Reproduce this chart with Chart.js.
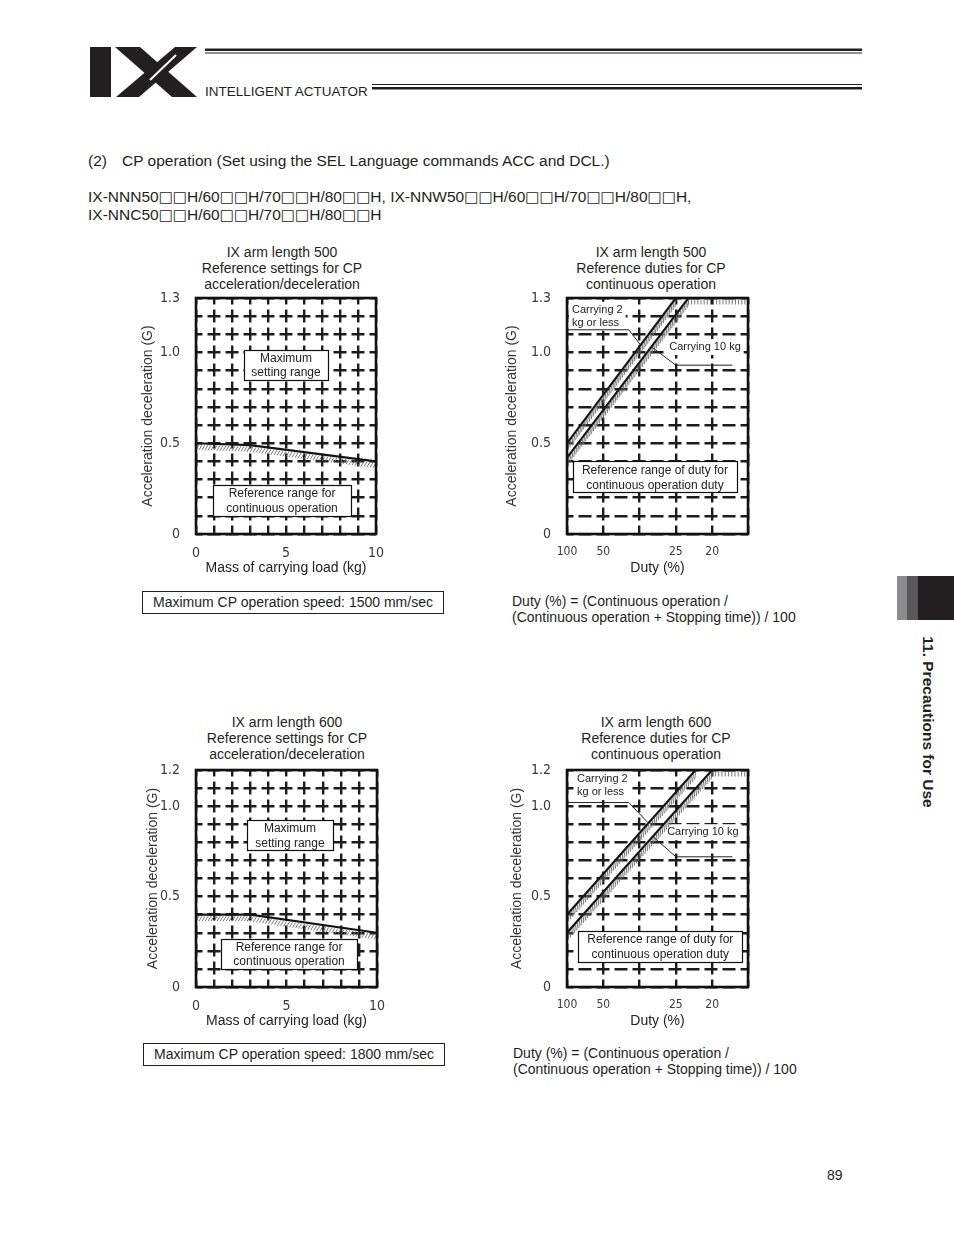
<!DOCTYPE html>
<html><head><meta charset="utf-8">
<script src="https://cdn.jsdelivr.net/npm/chart.js@4.4.1/dist/chart.umd.min.js"></script>
<style>
html,body{margin:0;padding:0;background:#fff;}
body{width:954px;height:1235px;position:relative;overflow:hidden;font-family:"Liberation Sans",Arial,sans-serif;color:#231f20;}
.t{position:absolute;white-space:pre;}
.ct{position:absolute;width:260px;text-align:center;font-size:14px;line-height:16px;white-space:pre;}
.c{position:absolute;}
.sq{font-family:"DejaVu Sans",sans-serif;font-size:15px;}
.box{position:absolute;border:1px solid #231f20;box-sizing:border-box;text-align:center;font-size:14px;line-height:20px;white-space:pre;}
</style></head><body>

<svg class="c" style="left:0;top:0" width="954" height="110">
  <rect x="90" y="47" width="21" height="50" fill="#231f20"/>
  <polygon points="115,47 140,47 197,97 172,97" fill="#231f20"/>
  <polygon points="175,47 197,47 139,97 116,97" fill="#231f20"/>
  <line x1="150" y1="80" x2="176" y2="55" stroke="#fff" stroke-width="2"/>
  <rect x="205" y="48.5" width="657" height="2.5" fill="#231f20"/>
  <rect x="205" y="52.5" width="657" height="1" fill="#231f20"/>
  <rect x="372" y="84" width="490" height="1" fill="#231f20"/>
  <rect x="372" y="87" width="490" height="2.5" fill="#231f20"/>
</svg>
<div class="t" style="left:205px;top:85px;font-size:13.5px;line-height:14px;">INTELLIGENT ACTUATOR</div>

<div class="t" style="left:88px;top:152px;font-size:15.5px;line-height:17px;">(2)</div>
<div class="t" style="left:122px;top:152px;font-size:15.5px;line-height:17px;">CP operation (Set using the SEL Language commands ACC and DCL.)</div>
<div class="t" style="left:88px;top:188px;font-size:15.5px;line-height:18px;">IX-NNN50<span class="sq">□□</span>H/60<span class="sq">□□</span>H/70<span class="sq">□□</span>H/80<span class="sq">□□</span>H, IX-NNW50<span class="sq">□□</span>H/60<span class="sq">□□</span>H/70<span class="sq">□□</span>H/80<span class="sq">□□</span>H,
IX-NNC50<span class="sq">□□</span>H/60<span class="sq">□□</span>H/70<span class="sq">□□</span>H/80<span class="sq">□□</span>H</div>

<div class="ct" style="left:152px;top:244px;">IX arm length 500
Reference settings for CP
acceleration/deceleration</div>
<div class="ct" style="left:521px;top:244px;">IX arm length 500
Reference duties for CP
continuous operation</div>
<div class="ct" style="left:157px;top:714px;">IX arm length 600
Reference settings for CP
acceleration/deceleration</div>
<div class="ct" style="left:526px;top:714px;">IX arm length 600
Reference duties for CP
continuous operation</div>

<canvas id="c1" class="c" style="left:130px;top:290px" width="260" height="300"></canvas>
<canvas id="c2" class="c" style="left:500px;top:290px" width="260" height="300"></canvas>
<canvas id="c3" class="c" style="left:130px;top:760px" width="260" height="280"></canvas>
<canvas id="c4" class="c" style="left:500px;top:760px" width="260" height="280"></canvas>

<div class="box" style="left:142px;top:591px;width:302px;height:23px;">Maximum CP operation speed: 1500 mm/sec</div>
<div class="box" style="left:143px;top:1043px;width:302px;height:23px;">Maximum CP operation speed: 1800 mm/sec</div>
<div class="t" style="left:512px;top:593px;font-size:14px;line-height:16px;">Duty (%) = (Continuous operation /
(Continuous operation + Stopping time)) / 100</div>
<div class="t" style="left:513px;top:1045px;font-size:14px;line-height:16px;">Duty (%) = (Continuous operation /
(Continuous operation + Stopping time)) / 100</div>

<div class="c" style="left:897px;top:576px;width:10px;height:44px;background:#8c8c8c"></div>
<div class="c" style="left:907px;top:576px;width:11px;height:44px;background:#58585a"></div>
<div class="c" style="left:918px;top:576px;width:36px;height:44px;background:#231f20"></div>
<div class="t" style="left:928px;top:722px;transform:translate(-50%,-50%) rotate(90deg);font-weight:bold;font-size:15.5px;line-height:17px;">11. Precautions for Use</div>

<div class="t" style="left:827px;top:1167px;font-size:14px;line-height:16px;">89</div>

<script>
// ---------- data ----------
const massTicks = [0, 5, 10];
const dutyTickLabels = [100, 50, 25, 20];
const dutyGridValues = [100, 50, 33.3, 25, 20, 16.7];
const yLabels500 = [0, 0.5, 1.0, 1.3];
const yLabels600 = [0, 0.5, 1.0, 1.2];

// arm 500: acceleration vs mass
const mass500 = [0, 3, 10];
const accel500 = [0.5, 0.49, 0.4];
// arm 600: acceleration vs mass
const mass600 = [0, 3, 10];
const accel600 = [0.4, 0.4, 0.3];

// arm 500: duty lines
const duty500Light = [100, 25];
const accel500Light = [0.5, 1.3];
const duty500Heavy = [100, 23];
const accel500Heavy = [0.42, 1.3];
const duty500Limit = [23, 16.7];
const accel500Limit = [1.3, 1.3];
// arm 600: duty lines
const duty600Light = [100, 22];
const accel600Light = [0.4, 1.2];
const duty600Heavy = [100, 20];
const accel600Heavy = [0.3, 1.2];
const duty600Limit = [20, 16.7];
const accel600Limit = [1.2, 1.2];

// ---------- reciprocal duty scale ----------
class ReciprocalScale extends Chart.Scale {
  determineDataLimits() { this.min = this.options.min; this.max = this.options.max; }
  buildTicks() { return dutyGridValues.map(v => ({ value: v })); }
  getLabelForValue(v) { return String(v); }
  configure() { super.configure(); this._lo = 100 / this.max; this._hi = 100 / this.min; }
  getPixelForValue(v) { return this.getPixelForDecimal((100 / v - this._lo) / (this._hi - this._lo)); }
  getValueForPixel(p) { return 100 / (this._lo + this.getDecimalForPixel(p) * (this._hi - this._lo)); }
}
ReciprocalScale.id = 'reciprocal';
ReciprocalScale.defaults = {};
Chart.register(ReciprocalScale);

const SANS = '"Liberation Sans", Arial, sans-serif';
const NARROW = '"Liberation Sans Narrow", "DejaVu Sans Condensed", sans-serif';
const pts = (xs, ys) => xs.map((x, i) => ({ x: x, y: ys[i] }));

function annoPlugin(cfg) {
  return {
    id: 'anno',
    beforeDatasetsDraw(chart) {
      const { ctx } = chart; const x = chart.scales.x, y = chart.scales.y;
      ctx.save();
      (cfg.labels || []).forEach(lb => {
        const lx = x.getPixelForValue(lb.x), ly = y.getPixelForValue(lb.y);
        ctx.font = '11px ' + SANS;
        const w = Math.max(...lb.lines.map(s => ctx.measureText(s).width));
        ctx.fillStyle = '#fff';
        ctx.fillRect(lx - 3, ly - 8, w + 6, 13 * lb.lines.length + 3);
        ctx.fillStyle = '#222'; ctx.textAlign = 'left'; ctx.textBaseline = 'middle';
        lb.lines.forEach((s, i) => ctx.fillText(s, lx, ly + i * 13));
      });
      (cfg.boxes || []).forEach(b => {
        const cx = x.getPixelForValue(b.x), cy = y.getPixelForValue(b.y);
        const l = Math.round(cx - b.w / 2) + 0.5, t = Math.round(cy - b.h / 2) + 0.5;
        ctx.fillStyle = '#fff'; ctx.fillRect(l, t, b.w, b.h);
        ctx.strokeStyle = '#111'; ctx.lineWidth = 1.2; ctx.strokeRect(l, t, b.w, b.h);
        ctx.fillStyle = '#222'; ctx.font = '12px ' + SANS;
        ctx.textAlign = 'center'; ctx.textBaseline = 'middle';
        b.lines.forEach((s, i) => ctx.fillText(s, cx, cy + 1 + (i - (b.lines.length - 1) / 2) * 14.5));
      });
      ctx.restore();
    },
    afterDatasetsDraw(chart) {
      const { ctx, chartArea: a } = chart; const x = chart.scales.x, y = chart.scales.y;
      ctx.save();
      ctx.beginPath(); ctx.rect(a.left, a.top, a.right - a.left, a.bottom - a.top); ctx.clip();
      chart.data.datasets.forEach((ds, di) => {
        if (!ds.hatch) return;
        const h = ds.hatch;
        const p = chart.getDatasetMeta(di).data;
        ctx.strokeStyle = '#6a6a6a'; ctx.lineWidth = 0.9;
        ctx.beginPath();
        for (let k = 0; k < p.length - 1; k++) {
          const x0 = p[k].x, y0 = p[k].y, x1 = p[k + 1].x, y1 = p[k + 1].y;
          const n = Math.max(1, Math.floor(Math.hypot(x1 - x0, y1 - y0) / h.spacing));
          for (let j = 0; j <= n; j++) {
            const px = x0 + (x1 - x0) * j / n, py = y0 + (y1 - y0) * j / n;
            ctx.moveTo(px, py + 1.5); ctx.lineTo(px + h.dx, py + 1.5 + h.dy);
          }
        }
        ctx.stroke();
      });
      ctx.restore();
      ctx.save();
      ctx.strokeStyle = '#222'; ctx.lineWidth = 1;
      (cfg.leaders || []).forEach(L => {
        ctx.beginPath();
        L.forEach((q, i) => {
          const px = x.getPixelForValue(q[0]), py = y.getPixelForValue(q[1]);
          i ? ctx.lineTo(px, py) : ctx.moveTo(px, py);
        });
        ctx.stroke();
      });
      ctx.strokeStyle = '#111'; ctx.lineWidth = 2.6;
      ctx.strokeRect(a.left, a.top, a.right - a.left, a.bottom - a.top);
      ctx.restore();
    }
  };
}

function gridOpts() {
  return {
    grid: { color: '#1c1c1c', lineWidth: 2.4, drawTicks: false },
    border: { display: false, dash: [13, 5], dashOffset: 6.5 }
  };
}
function noPad(s) { s.paddingTop = 0; s.paddingBottom = 0; s.paddingLeft = 0; s.paddingRight = 0; }

function yAxis(max, labels, width, titlePad) {
  return Object.assign(gridOpts(), {
    type: 'linear', position: 'left', min: 0, max: max,
    afterFit: s => { s.width = width; noPad(s); },
    ticks: {
      stepSize: 0.1, autoSkip: false, padding: 16, color: '#3a3a3a',
      font: { family: NARROW, size: 14 },
      callback: v => labels.some(l => Math.abs(l - v) < 1e-6) ? (v === 0 ? '0' : Number(v).toFixed(1)) : ''
    },
    title: { display: true, text: 'Acceleration deceleration (G)', color: '#333',
             font: { family: SANS, size: 14 }, padding: { top: titlePad, bottom: 0 } }
  });
}

function massAxis(height, tickPad, titlePad) {
  return Object.assign(gridOpts(), {
    type: 'linear', position: 'bottom', min: 0, max: 10,
    afterFit: s => { s.height = height; noPad(s); },
    ticks: { stepSize: 1, autoSkip: false, maxRotation: 0, padding: tickPad, color: '#3a3a3a',
             font: { family: NARROW, size: 14 },
             callback: v => massTicks.includes(v) ? String(v) : '' },
    title: { display: true, text: 'Mass of carrying load (kg)', color: '#222',
             font: { family: SANS, size: 14 }, padding: { top: 0, bottom: titlePad } }
  });
}

function dutyAxis(height, tickPad, titlePad) {
  return Object.assign(gridOpts(), {
    type: 'reciprocal', position: 'bottom', min: 16.7, max: 100,
    afterFit: s => { s.height = height; noPad(s); },
    ticks: { autoSkip: false, maxRotation: 0, padding: tickPad, color: '#3a3a3a',
             font: { family: NARROW, size: 12 },
             callback: v => dutyTickLabels.includes(v) ? String(v) : '' },
    title: { display: true, text: 'Duty (%)', color: '#222',
             font: { family: SANS, size: 14 }, padding: { top: 0, bottom: titlePad } }
  });
}

function lineDs(data, hatch) {
  return { data: data, borderColor: '#141414', borderWidth: 2.2, pointRadius: 0, tension: 0, fill: false, hatch: hatch };
}

const HATCH_FLAT = { spacing: 3, dx: -3, dy: 5 };
const HATCH_DIAG = { spacing: 3.2, dx: -1, dy: 8 };
const HATCH_TOP = { spacing: 3, dx: 0, dy: 5 };

function baseOpts(pad, scales) {
  return {
    responsive: false, animation: false, devicePixelRatio: 1, events: [],
    layout: { padding: pad },
    plugins: { legend: { display: false }, tooltip: { enabled: false } },
    scales: scales
  };
}

new Chart(document.getElementById('c1'), {
  type: 'line',
  data: { datasets: [lineDs(pts(mass500, accel500), HATCH_FLAT)] },
  options: baseOpts({ top: 8, right: 14, left: 0, bottom: 0 },
    { x: massAxis(56, 11, 13), y: yAxis(1.3, yLabels500, 66, 10) }),
  plugins: [annoPlugin({
    boxes: [
      { x: 5.0, y: 0.933, w: 84, h: 30, lines: ['Maximum', 'setting range'] },
      { x: 4.78, y: 0.186, w: 138, h: 31, lines: ['Reference range for', 'continuous operation'] }
    ]
  })]
});

new Chart(document.getElementById('c2'), {
  type: 'line',
  data: { datasets: [
    lineDs(pts(duty500Light, accel500Light), HATCH_DIAG),
    lineDs(pts(duty500Heavy, accel500Heavy), HATCH_DIAG),
    lineDs(pts(duty500Limit, accel500Limit), HATCH_TOP)
  ] },
  options: baseOpts({ top: 8, right: 12, left: 0, bottom: 0 },
    { x: dutyAxis(56, 11, 13), y: yAxis(1.3, yLabels500, 67, 4) }),
  plugins: [annoPlugin({
    labels: [
      { x: 88, y: 1.235, lines: ['Carrying 2', 'kg or less'] },
      { x: 26.2, y: 1.03, lines: ['Carrying 10 kg'] }
    ],
    leaders: [
      [[100, 1.125], [37, 1.125], [33, 1.04]],
      [[30, 1.03], [25, 0.93], [18, 0.93]]
    ],
    boxes: [
      { x: 29.2, y: 0.314, w: 164, h: 31, lines: ['Reference range of duty for', 'continuous operation duty'] }
    ]
  })]
});

new Chart(document.getElementById('c3'), {
  type: 'line',
  data: { datasets: [lineDs(pts(mass600, accel600), HATCH_FLAT)] },
  options: baseOpts({ top: 10, right: 13, left: 0, bottom: 0 },
    { x: massAxis(53, 11, 10), y: yAxis(1.2, yLabels600, 66, 15) }),
  plugins: [annoPlugin({
    boxes: [
      { x: 5.19, y: 0.839, w: 86, h: 30, lines: ['Maximum', 'setting range'] },
      { x: 5.14, y: 0.183, w: 136, h: 30, lines: ['Reference range for', 'continuous operation'] }
    ]
  })]
});

new Chart(document.getElementById('c4'), {
  type: 'line',
  data: { datasets: [
    lineDs(pts(duty600Light, accel600Light), HATCH_DIAG),
    lineDs(pts(duty600Heavy, accel600Heavy), HATCH_DIAG),
    lineDs(pts(duty600Limit, accel600Limit), HATCH_TOP)
  ] },
  options: baseOpts({ top: 10, right: 12, left: 0, bottom: 0 },
    { x: dutyAxis(53, 11, 10), y: yAxis(1.2, yLabels600, 67, 9) }),
  plugins: [annoPlugin({
    labels: [
      { x: 78.4, y: 1.15, lines: ['Carrying 2', 'kg or less'] },
      { x: 26.6, y: 0.856, lines: ['Carrying 10 kg'] }
    ],
    leaders: [
      [[100, 1.02], [37, 1.02], [31, 0.91]],
      [[29.6, 0.83], [25, 0.72], [18, 0.72]]
    ],
    boxes: [
      { x: 28, y: 0.225, w: 164, h: 31, lines: ['Reference range of duty for', 'continuous operation duty'] }
    ]
  })]
});
</script>
</body></html>
